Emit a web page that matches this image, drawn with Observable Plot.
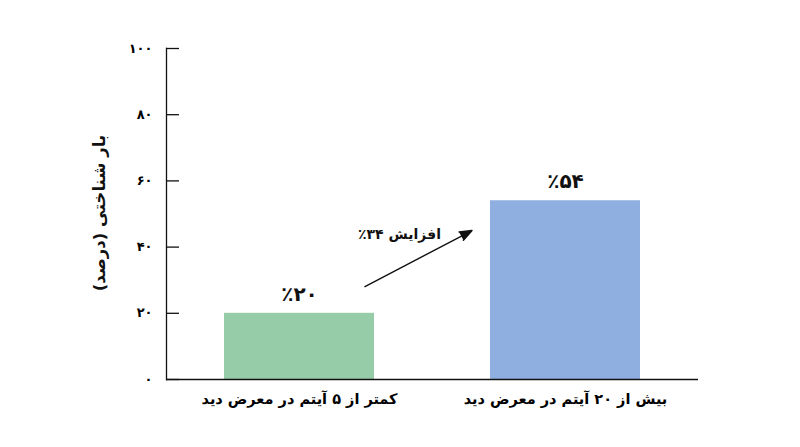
<!DOCTYPE html>
<html>
<head>
<meta charset="utf-8">
<script src="https://cdn.jsdelivr.net/npm/d3@7"></script>
<script src="https://cdn.jsdelivr.net/npm/@observablehq/plot@0.6"></script>
<style>
  html, body { margin: 0; padding: 0; background: #fff; }
  #chart { width: 800px; height: 447px; }
  svg { font-family: "DejaVu Sans", "Noto Sans", sans-serif; }
</style>
</head>
<body>
<div id="chart"></div>
<script>
// ---- data ----
const categories = ["کمتر از ۵ آیتم در معرض دید", "بیش از ۲۰ آیتم در معرض دید"];
const values = [20, 54];
const barColors = ["#97cca8", "#8fafe0"];
const valueLabels = ["٪۲۰", "٪۵۴"];
const yTicks = [0, 20, 40, 60, 80, 100];
const yLabel = "بار شناختی (درصد)";
const arrowLabel = "افزایش ۳۴٪";
// arrow annotation (from first category towards second), in data units
const arrowFrom = {x: categories[0], y: 17.7};
const arrowTo = {x: categories[1], y: 59.8};
const arrowLabelY = 43.8;

const RLM = "\u200F";
const fa = (n) => String(n).replace(/\d/g, (d) => "۰۱۲۳۴۵۶۷۸۹"[d]);
const bars = categories.map((c, i) => ({category: c, value: values[i], color: barColors[i], label: valueLabels[i]}));

const plot = Plot.plot({
  width: 800,
  height: 447,
  marginLeft: 166,
  marginRight: 102,
  marginTop: 48,
  marginBottom: 68,
  x: {domain: categories, paddingInner: 0.436, paddingOuter: 0.218},
  y: {domain: [0, 100]},
  marks: [
    Plot.barY(bars, {x: "category", y: "value", fill: "color"}),
    Plot.text(bars, {x: "category", y: "value", text: "label", dy: -19, fontSize: 20, fontWeight: "bold", fill: "#111"}),
    Plot.arrow([{x1: arrowFrom.x, y1: arrowFrom.y, x2: arrowTo.x, y2: arrowTo.y}], {
      x1: "x1", y1: "y1", x2: "x2", y2: "y2",
      insetStart: 73.9, insetEnd: 105.5,
      headLength: 14, headAngle: 42,
      stroke: "#111", fill: "#111", strokeWidth: 1.4
    }),
    Plot.text([arrowLabel], {x: () => categories[0], y: () => arrowLabelY, text: (d) => RLM + d + RLM, dx: 100, fontSize: 14, fontWeight: "bold", fill: "#111", textAnchor: "middle"}),
    Plot.axisY({ticks: yTicks, tickSize: 0, tickPadding: 14, tickFormat: fa, fontSize: 13, fontWeight: "bold", label: null}),
    Plot.axisY({ticks: yTicks, tickSize: -13, tickFormat: () => "", label: null, stroke: "#111", strokeWidth: 1.3}),
    Plot.axisX({tickSize: 0, tickPadding: 14, fontSize: 14.5, fontWeight: "bold", label: null}),
    Plot.frame({anchor: "left", stroke: "#111", strokeWidth: 1.3}),
    Plot.ruleY([0], {stroke: "#111", strokeWidth: 1.3})
  ]
});

const svg = d3.select(plot);
svg.style("overflow", "visible");
svg.append("text")
  .attr("transform", "translate(100,213) rotate(-90)")
  .attr("text-anchor", "middle")
  .attr("dominant-baseline", "middle")
  .attr("font-size", 16.5)
  .attr("font-weight", "bold")
  .attr("fill", "#111")
  .text(yLabel);

document.getElementById("chart").appendChild(plot);
</script>
</body>
</html>
